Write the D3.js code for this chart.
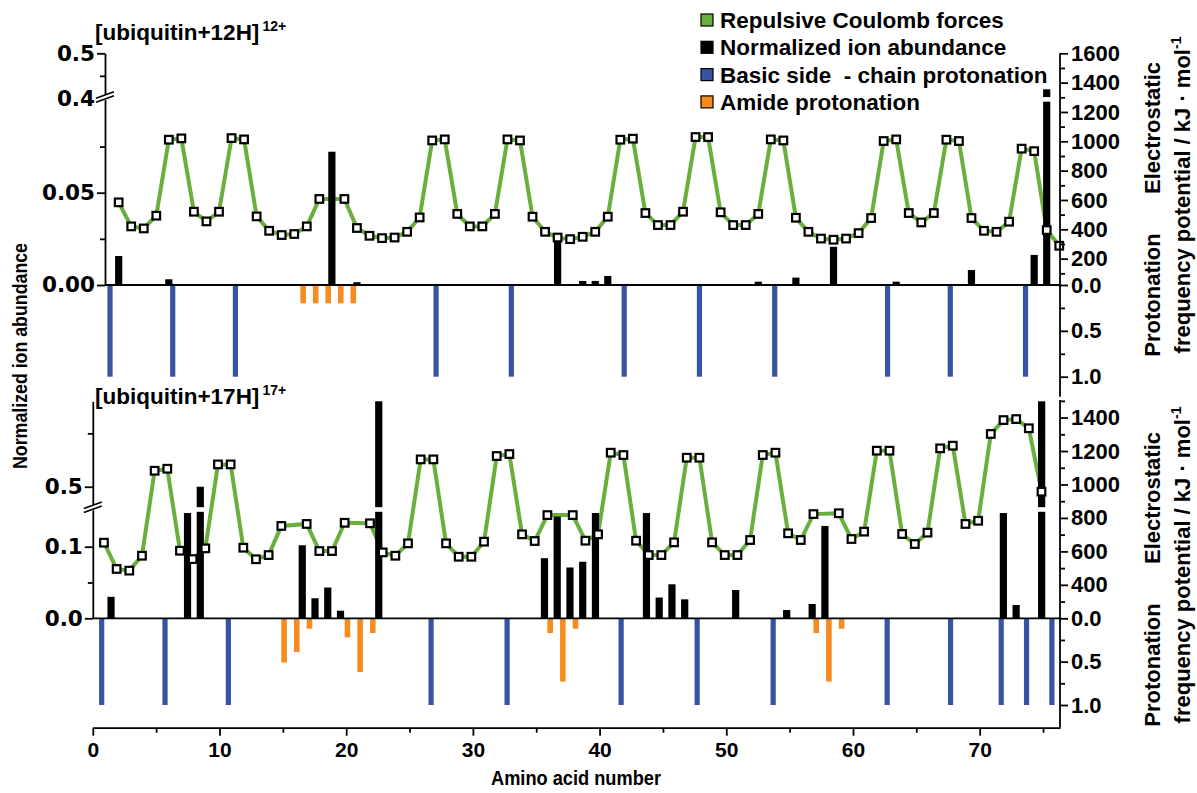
<!DOCTYPE html>
<html>
<head>
<meta charset="utf-8">
<script src="https://cdn.jsdelivr.net/npm/d3@7"></script>
<style>
  body { margin: 0; background: #fff; }
  svg text { font-family: "Liberation Sans", Arial, sans-serif; font-weight: bold; fill: #000; }
</style>
</head>
<body>
<div id="chart"></div>
<script>
const WIDTH = 1197, HEIGHT = 793;

// ---------- data ----------
// repulsive Coulomb potential (kJ/mol) per site 1..76, null = no point
const top_coulomb = [584, 420, 406, 493, 1011, 1020, 520, 454, 520, 1022, 1013, 488, 390, 361, 368, 420, 607, null, 607, 409,
  356, 340, 344, 383, 481, 1006, 1013, 505, 420, 420, 505, 1013, 1006, 486, 383, 344, 333, 349, 383, 486,
  1011, 1018, 511, 429, 429, 520, 1029, 1029, 516, 429, 429, 505, 1013, 1006, 479, 383, 337, 329, 337, 374,
  477, 1002, 1013, 511, 447, 511, 1011, 1002, 477, 390, 383, 452, 950, 933, 395, 288];
const bot_coulomb = [652, 495, 485, 574, 1082, 1094, 604, 554, 618, 1120, 1120, 622, 553, 578, 752, null, 764, 602, 602, 771,
  null, 768, 594, 574, 648, 1150, 1150, 648, 568, 568, 658, 1170, 1182, 702, 662, 817, null, 817, 664, 702,
  1190, 1176, 664, 578, 578, 654, 1160, 1160, 654, 578, 578, 668, 1176, 1190, 708, 668, 823, null, 828, 674,
  718, 1202, 1202, 704, 644, 712, 1216, 1232, 764, 783, 1302, 1385, 1391, 1336, 957];

// normalized ion abundance
const top_ion_sites = [1, 5, 18, 20, 36, 38, 39, 40, 52, 55, 58, 63, 69, 74, 75];
const top_ion_vals  = [0.0157, 0.0031, 0.0722, 0.0015, 0.0262, 0.0022, 0.0022, 0.0049, 0.0018, 0.004, 0.0207, 0.0018, 0.0081, 0.0163, 0.42];
const bot_ion_sites = [1, 7, 8, 16, 17, 18, 19, 22, 35, 36, 37, 38, 39, 43, 44, 45, 46, 50, 54, 56, 57, 71, 72, 74];
const bot_ion_vals  = [0.030, 0.147, 0.50, 0.102, 0.028, 0.043, 0.0106, 0.66, 0.084, 0.142, 0.071, 0.079, 0.147, 0.147,
  0.029, 0.0475, 0.0265, 0.0395, 0.0116, 0.020, 0.129, 0.147, 0.0186, 0.66];

// protonation frequency
const top_basic_sites = [1, 6, 11, 27, 33, 42, 48, 54, 63, 68, 74];
const top_basic_freq  = [1, 1, 1, 1, 1, 1, 1, 1, 1, 1, 1];
const top_amide_sites = [16, 17, 18, 19, 20];
const top_amide_freq  = [0.2, 0.2, 0.2, 0.2, 0.2];
const bot_basic_sites = [1, 6, 11, 27, 33, 42, 48, 54, 63, 68, 72, 74, 76];
const bot_basic_freq  = [1, 1, 1, 1, 1, 1, 1, 1, 1, 1, 1, 1, 1];
const bot_amide_sites = [15, 16, 17, 20, 21, 22, 36, 37, 38, 57, 58, 59];
const bot_amide_freq  = [0.51, 0.39, 0.12, 0.22, 0.62, 0.17, 0.17, 0.73, 0.12, 0.17, 0.73, 0.12];

const x_ticks = [0, 10, 20, 30, 40, 50, 60, 70];
const legend_labels = ["Repulsive Coulomb forces", "Normalized ion abundance", "Basic side  - chain protonation", "Amide protonation"];
const GREEN = "#6aaf3d", BLUE = "#3953a3", ORANGE = "#f68b1f", BLACK = "#000";
const legend_colors = [GREEN, BLACK, BLUE, ORANGE];

// ---------- setup ----------
const svg = d3.select("#chart").append("svg")
  .attr("width", WIDTH).attr("height", HEIGHT);

const zip = (s, v) => s.map((d, i) => ({site: d, v: v[i]}));
const series = arr => arr.map((v, i) => ({site: i + 1, v: v})).filter(d => d.v != null);

const TOP = {
  x: d3.scaleLinear().domain([0.3, 76.45]).range([105, 1060]),
  off: {basic: -0.3, amide: 0.1, coul: 0.39},
  yAb: d3.scaleLinear().domain([0, 0.1, 0.4, 0.5]).range([285, 100.4, 98.3, 53.3]),
  brk: [0.1, 0.4],
  yE: d3.scaleLinear().domain([0, 1600]).range([288, 53.3]),
  yP: d3.scaleLinear().domain([0, 1]).range([285, 376.7]),
  pEnd: 1.22,
  abTicks: [0, 0.05, 0.4, 0.5], abMinor: [0.025, 0.075, 0.45],
  abFmt: d => d >= 0.4 ? d.toFixed(1) : d.toFixed(2),
  eTicks: [200, 400, 600, 800, 1000, 1200, 1400, 1600],
  eMinor: [100, 300, 500, 700, 900, 1100, 1300, 1500],
  coul: top_coulomb, ion: zip(top_ion_sites, top_ion_vals),
  basic: zip(top_basic_sites, top_basic_freq), amide: zip(top_amide_sites, top_amide_freq),
  title: "[ubiquitin+12H]", sup: "12+", titleY: 40, textShift: 0
};
TOP.xIon = k => TOP.x(k + TOP.off.coul);

const BOT = {
  x: d3.scaleLinear().domain([0, 76.34]).range([92.8, 1060]),
  off: {basic: -0.3, amide: 0.1, coul: -0.12},
  yAb: d3.scaleLinear().domain([0, 0.15, 0.46, 0.66]).range([618.3, 510.9, 508.1, 401.3]),
  brk: [0.15, 0.46],
  yE: d3.scaleLinear().domain([200, 1505]).range([618.3, 400]),
  yP: d3.scaleLinear().domain([0, 1]).range([618.3, 705]),
  pEnd: 1.26,
  abTicks: [0, 0.1, 0.5], abMinor: [0.05, 0.6],
  abFmt: d => d.toFixed(1),
  eTicks: [400, 600, 800, 1000, 1200, 1400],
  eMinor: [300, 500, 700, 900, 1100, 1300, 1500],
  coul: bot_coulomb, ion: zip(bot_ion_sites, bot_ion_vals),
  basic: zip(bot_basic_sites, bot_basic_freq), amide: zip(bot_amide_sites, bot_amide_freq),
  title: "[ubiquitin+17H]", sup: "17+", titleY: 404, textShift: 370
};
// ion bars of the lower panel sit on a slightly stretched grid
const botIonX = d3.scaleLinear().domain([1, 74]).range([BOT.x(1.44), BOT.x(74.89)]);
BOT.xIon = k => botIonX(k);

function drawPanel(c) {
  const g = svg.append("g");
  const x0 = c.x.range()[0], x1 = c.x.range()[1];
  const base = c.yP(0);

  // protonation bars (downwards)
  g.selectAll(".basic").data(c.basic).enter().append("rect")
    .attr("x", d => c.x(d.site + c.off.basic) - 2.6).attr("width", 5.2)
    .attr("y", base).attr("height", d => c.yP(d.v) - base)
    .attr("fill", BLUE);
  g.selectAll(".amide").data(c.amide).enter().append("rect")
    .attr("x", d => c.x(d.site + c.off.amide) - 2.8).attr("width", 5.6)
    .attr("y", base).attr("height", d => c.yP(d.v) - base)
    .attr("fill", ORANGE);

  // Coulomb line
  const pts = series(c.coul);
  const line = d3.line().x(d => c.x(d.site + c.off.coul)).y(d => c.yE(d.v));
  g.append("path").datum(pts).attr("d", line)
    .attr("fill", "none").attr("stroke", GREEN).attr("stroke-width", 4);

  // ion abundance bars
  g.selectAll(".ion").data(c.ion).enter().append("rect")
    .attr("x", d => c.xIon(d.site) - 3.6).attr("width", 7.2)
    .attr("y", d => c.yAb(d.v)).attr("height", d => base - c.yAb(d.v))
    .attr("fill", BLACK);
  const gapY = (c.yAb(c.brk[0]) + c.yAb(c.brk[1])) / 2;
  g.selectAll(".gap").data(c.ion.filter(d => d.v > c.brk[0])).enter().append("rect")
    .attr("x", d => c.xIon(d.site) - 4.5).attr("width", 9)
    .attr("y", gapY - 2.3).attr("height", 4.6).attr("fill", "#fff");

  // markers
  g.selectAll(".mk").data(pts).enter().append("rect")
    .attr("x", d => c.x(d.site + c.off.coul) - 3.8).attr("y", d => c.yE(d.v) - 3.8)
    .attr("width", 7.6).attr("height", 7.6)
    .attr("fill", "#fff").attr("stroke", BLACK).attr("stroke-width", 2.2);

  // baseline
  g.append("line").attr("x1", x0).attr("x2", x1).attr("y1", base).attr("y2", base)
    .attr("stroke", BLACK).attr("stroke-width", 1.8);

  // left axis
  const left = g.append("g").attr("transform", `translate(${x0},0)`);
  left.call(d3.axisLeft(c.yAb).tickValues(c.abTicks).tickFormat(c.abFmt).tickSize(8).tickSizeOuter(0));
  left.append("g").call(d3.axisLeft(c.yAb).tickValues(c.abMinor).tickFormat("").tickSize(5))
    .call(s => s.select(".domain").remove());
  left.selectAll("path,line").attr("stroke", BLACK).attr("stroke-width", 1.8);
  left.selectAll("text").style("font-family", "'DejaVu Sans', sans-serif")
    .style("font-weight", "bold").style("font-size", "21.5px").attr("x", -10);
  // axis break symbol
  const brk = left.append("g").attr("transform", `translate(0,${gapY})`);
  brk.append("polygon").attr("points", "-8,4 8,-2 8,-7 -8,-1").attr("fill", "#fff");
  brk.append("line").attr("x1", -9).attr("y1", 3).attr("x2", 9).attr("y2", -3.5)
    .attr("stroke", BLACK).attr("stroke-width", 1.6);
  brk.append("line").attr("x1", -9).attr("y1", -1).attr("x2", 9).attr("y2", -7.5)
    .attr("stroke", BLACK).attr("stroke-width", 1.6);

  // right axis: energy + protonation frequency
  const right = g.append("g").attr("transform", `translate(${x1},0)`);
  right.append("line").attr("y1", c.yE.range()[1]).attr("y2", c.yP(c.pEnd))
    .attr("stroke", BLACK).attr("stroke-width", 1.8);
  right.append("g").call(d3.axisRight(c.yE).tickValues(c.eTicks).tickFormat(d3.format("d")).tickSize(8))
    .call(s => s.select(".domain").remove());
  right.append("g").call(d3.axisRight(c.yE).tickValues(c.eMinor).tickFormat("").tickSize(5))
    .call(s => s.select(".domain").remove());
  right.append("g").call(d3.axisRight(c.yP).tickValues([0, 0.5, 1]).tickFormat(d3.format(".1f")).tickSize(8))
    .call(s => s.select(".domain").remove());
  right.append("g").call(d3.axisRight(c.yP).tickValues([0.25, 0.75]).tickFormat("").tickSize(5))
    .call(s => s.select(".domain").remove());
  right.selectAll("line").attr("stroke", BLACK).attr("stroke-width", 1.8);
  right.selectAll("text").style("font-family", "'Liberation Sans', Arial, sans-serif")
    .style("font-weight", "bold").style("font-size", "22px").attr("x", 11);

  // panel title
  const t = g.append("text").attr("x", 95).attr("y", c.titleY).style("font-size", "22.5px");
  t.append("tspan").text(c.title);
  t.append("tspan").attr("dx", 3).attr("dy", -9).style("font-size", "14px").text(c.sup);

  // right axis titles
  const s = c.textShift;
  const rt = (txt, cx, cy) => g.append("text")
    .attr("transform", `translate(${cx},${cy}) rotate(-90)`)
    .attr("text-anchor", "middle").style("font-size", "22px").text(txt);
  rt("Electrostatic", 1160, 128 + s);
  rt("Protonation", 1160, 295 + s);
  const c2 = rt("frequency potential / kJ · mol", 1190, 195 + s);
  c2.append("tspan").attr("dy", -9).style("font-size", "14px").text("-1");
}

drawPanel(TOP);
drawPanel(BOT);

// x axis
const xAxisY = 727.7;
const xa = svg.append("g").attr("transform", `translate(0,${xAxisY})`);
xa.call(d3.axisBottom(BOT.x).tickValues(x_ticks).tickFormat(d3.format("d")).tickSize(8).tickSizeOuter(0));
xa.append("g").call(d3.axisBottom(BOT.x).tickValues(x_ticks.map(d => d + 5)).tickFormat("").tickSize(5))
  .call(s => s.select(".domain").remove());
xa.selectAll("path,line").attr("stroke", BLACK).attr("stroke-width", 1.8);
xa.selectAll("text").style("font-family", "'Liberation Sans', sans-serif")
  .style("font-weight", "bold").style("font-size", "21px").attr("y", 14);

svg.append("text").attr("x", 576).attr("y", 785).attr("text-anchor", "middle")
  .attr("textLength", 170).attr("lengthAdjust", "spacingAndGlyphs")
  .style("font-size", "20px").text("Amino acid number");

svg.append("text").attr("transform", "translate(27,356) rotate(-90)").attr("text-anchor", "middle")
  .attr("textLength", 226).attr("lengthAdjust", "spacingAndGlyphs")
  .style("font-size", "21px").text("Normalized ion abundance");

// legend
const lg = svg.append("g").attr("transform", "translate(701,20)");
const li = lg.selectAll("g").data(legend_labels).enter().append("g")
  .attr("transform", (d, i) => `translate(0,${i * 27.3})`);
li.append("rect").attr("x", 0).attr("y", -6).attr("width", 12).attr("height", 12)
  .attr("fill", (d, i) => legend_colors[i]).attr("stroke", BLACK).attr("stroke-width", 1.2);
li.append("text").attr("x", 19).attr("y", 8).style("font-size", "22.5px")
  .style("white-space", "pre").text(d => d);
</script>
</body>
</html>
